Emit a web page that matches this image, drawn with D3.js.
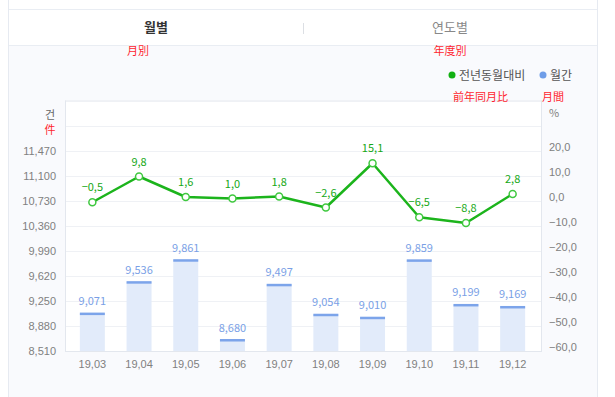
<!DOCTYPE html>
<html><head><meta charset="utf-8">
<script src="https://cdn.jsdelivr.net/npm/d3@7"></script>
<style>
html,body{margin:0;padding:0;background:#fff;}
svg{display:block;font-family:"Noto Sans CJK KR","Noto Sans",sans-serif;}
</style></head>
<body><svg id="c" width="615" height="397"></svg>
<script>
const categories = ["19,03","19,04","19,05","19,06","19,07","19,08","19,09","19,10","19,11","19,12"];
const monthly = [9071, 9536, 9861, 8680, 9497, 9054, 9010, 9859, 9199, 9169];
const yoy = [-0.5, 9.8, 1.6, 1.0, 1.8, -2.6, 15.1, -6.5, -8.8, 2.8];
const leftTicks = [8510, 8880, 9250, 9620, 9990, 10360, 10730, 11100, 11470];
const leftGridExtra = [11840, 12210];
const rightTicks = [-60, -50, -40, -30, -20, -10, 0, 10, 20];
const tabs = ["월별", "연도별"];
const tabNotes = ["月別", "年度別"];
const legendNames = ["전년동월대비", "월간"];
const legendNotes = ["前年同月比", "月間"];

const svg = d3.select("#c");
const numFmt = d3.formatLocale({decimal:",", thousands:",", grouping:[3], currency:["",""], minus:"\u2212"});
const fmtInt = numFmt.format(",d");
const fmtPct = numFmt.format(".1f");

// panel backgrounds
svg.append("rect").attr("x",8).attr("y",0).attr("width",590).attr("height",397).attr("fill","#f9fafd");
svg.append("rect").attr("x",8).attr("y",0).attr("width",590).attr("height",9).attr("fill","#fff");
svg.append("rect").attr("x",8).attr("y",10).attr("width",590).attr("height",35).attr("fill","#fff");
svg.append("line").attr("x1",8).attr("x2",598).attr("y1",9.5).attr("y2",9.5).attr("stroke","#e9edf3");
svg.append("line").attr("x1",8).attr("x2",598).attr("y1",45.5).attr("y2",45.5).attr("stroke","#e9edf3");
svg.append("line").attr("x1",8.5).attr("x2",8.5).attr("y1",0).attr("y2",397).attr("stroke","#e6eaf1");
svg.append("line").attr("x1",597.5).attr("x2",597.5).attr("y1",0).attr("y2",397).attr("stroke","#e6eaf1");
svg.append("line").attr("x1",303.5).attr("x2",303.5).attr("y1",23).attr("y2",34).attr("stroke","#dcdfe4");

const tabX = [156, 450];
tabs.forEach((t,i)=>{
  svg.append("text").attr("x",tabX[i]).attr("y",32).attr("text-anchor","middle")
    .attr("font-size",13).attr("font-weight",i===0?"bold":"normal")
    .attr("fill",i===0?"#333":"#888").text(t);
  svg.append("text").attr("x",tabX[i]-(i===0?18:0)).attr("y",55).attr("text-anchor","middle")
    .attr("font-size",11).attr("fill","#ff1f2f").text(tabNotes[i]);
});

// plot area
const L = 66, R = 541, T = 100, B = 351;
svg.append("rect").attr("x",L).attr("y",T).attr("width",R-L).attr("height",B-T).attr("fill","#fff");

const x = d3.scaleBand().domain(categories).range([69,536]).paddingInner(0.465).paddingOuter(0.2325);
const yL = d3.scaleLinear().domain([8510, 12210]).range([B, T+1]);
const yR = d3.scaleLinear().domain([-60, 40]).range([B, T+1]);

// gridlines
const gridVals = leftTicks.concat(leftGridExtra);
svg.append("g").selectAll("line").data(gridVals).join("line")
  .attr("x1",L).attr("x2",R).attr("y1",d=>Math.round(yL(d))+0.5).attr("y2",d=>Math.round(yL(d))+0.5)
  .attr("stroke","#eff1f5");

// axes
const axL = svg.append("g").attr("transform",`translate(${L},0)`)
  .call(d3.axisLeft(yL).tickValues(leftTicks).tickFormat(fmtInt).tickSize(0).tickPadding(10));
axL.select(".domain").remove();
axL.selectAll("text").attr("font-size",11).attr("fill","#808080").attr("font-family","inherit");

const axR = svg.append("g").attr("transform",`translate(${R},-4)`)
  .call(d3.axisRight(yR).tickValues(rightTicks).tickFormat(fmtPct).tickSize(0).tickPadding(8));
axR.select(".domain").remove();
axR.selectAll("text").attr("font-size",11).attr("fill","#808080").attr("font-family","inherit");

const axB = svg.append("g").attr("transform",`translate(0,${B})`)
  .call(d3.axisBottom(x).tickSize(0).tickPadding(9));
axB.select(".domain").remove();
axB.selectAll("text").attr("font-size",11).attr("fill","#808080").attr("font-family","inherit");

// borders of plot
svg.append("line").attr("x1",L-0.5).attr("x2",L-0.5).attr("y1",T).attr("y2",B+1).attr("stroke","#e3e7ee");
svg.append("line").attr("x1",R+0.5).attr("x2",R+0.5).attr("y1",T).attr("y2",B+1).attr("stroke","#e3e7ee");
svg.append("line").attr("x1",L-0.5).attr("x2",R+0.5).attr("y1",B+0.5).attr("y2",B+0.5).attr("stroke","#e3e7ee");
svg.append("line").attr("x1",L-0.5).attr("x2",R+0.5).attr("y1",T+0.5).attr("y2",T+0.5).attr("stroke","#f0f2f6");

// bars
const bars = svg.append("g");
bars.selectAll("rect.bar").data(monthly).join("rect").attr("class","bar")
  .attr("x",(d,i)=>x(categories[i])).attr("width",x.bandwidth())
  .attr("y",d=>yL(d)).attr("height",d=>B-yL(d)).attr("fill","#e2ebfa");
bars.selectAll("rect.cap").data(monthly).join("rect").attr("class","cap")
  .attr("x",(d,i)=>x(categories[i])).attr("width",x.bandwidth())
  .attr("y",d=>yL(d)-0.5).attr("height",2.5).attr("fill","#7ca4ea");
bars.selectAll("text").data(monthly).join("text")
  .attr("x",(d,i)=>x(categories[i])+x.bandwidth()/2).attr("y",d=>yL(d)-8)
  .attr("text-anchor","middle").attr("font-size",11).attr("fill","#7a9fe6").text(d=>fmtInt(d));

// line
const cx = (i)=>x(categories[i])+x.bandwidth()/2;
const line = d3.line().x((d,i)=>cx(i)).y(d=>yR(d));
svg.append("path").datum(yoy).attr("d",line).attr("fill","none")
  .attr("stroke","#1cb41c").attr("stroke-width",2.5).attr("stroke-linejoin","round");
svg.append("g").selectAll("circle").data(yoy).join("circle")
  .attr("cx",(d,i)=>cx(i)).attr("cy",d=>yR(d)).attr("r",3.5)
  .attr("fill","#fff").attr("stroke","#3fc83f").attr("stroke-width",1.5);
svg.append("g").selectAll("text").data(yoy).join("text")
  .attr("x",(d,i)=>cx(i)).attr("y",d=>yR(d)-11)
  .attr("text-anchor","middle").attr("font-size",11).attr("fill","#16a816").text(d=>fmtPct(d));

// legend
const legColors = ["#12b012","#6f9de8"];
const legX = [452, 543];
legendNames.forEach((n,i)=>{
  svg.append("circle").attr("cx",legX[i]).attr("cy",75).attr("r",3.5).attr("fill",legColors[i]);
  svg.append("text").attr("x",legX[i]+7).attr("y",79.5).attr("font-size",12).attr("fill","#555").text(n);
  svg.append("text").attr("x",legX[i]+(i===0?1:-1)).attr("y",101).attr("font-size",11).attr("fill","#ff1f2f").text(legendNotes[i]);
});

// unit labels
svg.append("text").attr("x",50).attr("y",119).attr("text-anchor","middle").attr("font-size",11).attr("fill","#666").text("건");
svg.append("text").attr("x",50).attr("y",134).attr("text-anchor","middle").attr("font-size",11).attr("fill","#ff1f2f").text("件");
svg.append("text").attr("x",549).attr("y",117).attr("font-size",11).attr("fill","#808080").text("%");
</script></body></html>
